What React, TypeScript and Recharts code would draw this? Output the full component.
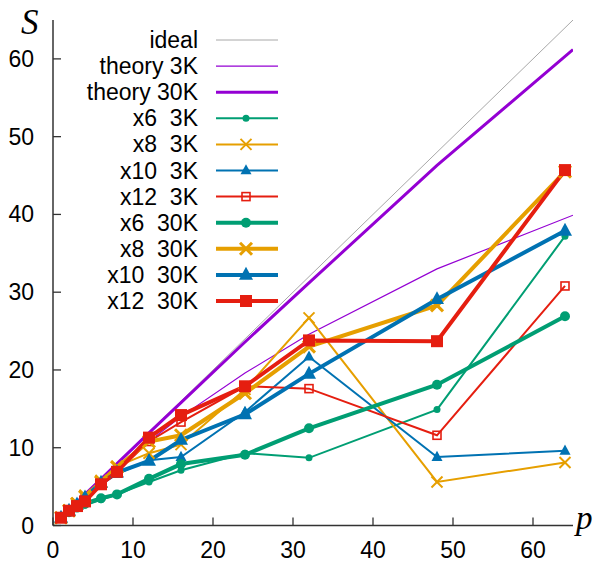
import { LineChart, Line, XAxis, YAxis } from 'recharts'

// processor counts used in the runs
const P = [1, 2, 3, 4, 6, 8, 12, 16, 24, 32, 48, 64]
const IDEAL_P = [0, 65]
const THEORY_P = [1, 2, 3, 4, 6, 8, 12, 16, 24, 32, 48, 65]

const ideal = [0, 65]
const theory3K = [1, 1.98, 2.94, 3.89, 5.72, 7.49, 10.8, 14.0, 19.6, 24.6, 33.0, 39.9]
const theory30K = [1, 2, 3, 4, 5.97, 7.95, 11.9, 15.8, 23.6, 31.2, 46.3, 61.2]

const x6_3K = [1, 1.6, 2.2, 2.6, 3.3, 4.0, 5.6, 7.1, 9.3, 8.7, 14.9, 37.2]
const x8_3K = [1, 2.0, 2.9, 3.9, 5.8, 7.6, 9.3, 10.4, 17.5, 26.7, 5.6, 8.1]
const x10_3K = [1, 1.9, 2.7, 3.5, 5.3, 6.6, 8.4, 8.8, 14.6, 21.7, 8.8, 9.6]
const x12_3K = [1, 1.9, 2.6, 3.4, 5.2, 6.9, 10.8, 13.3, 17.9, 17.6, 11.6, 30.8]
const x6_30K = [1, 1.7, 2.3, 2.8, 3.5, 4.0, 6.0, 7.9, 9.1, 12.5, 18.1, 26.9]
const x8_30K = [1, 1.9, 2.8, 3.7, 5.6, 7.5, 10.8, 11.6, 17.0, 23.0, 28.3, 45.5]
const x10_30K = [1, 1.9, 2.7, 3.6, 5.5, 6.8, 8.3, 11.0, 14.3, 19.5, 29.1, 37.9]
const x12_30K = [1, 1.9, 2.5, 3.1, 5.3, 6.9, 11.3, 14.2, 17.9, 23.8, 23.7, 45.7]

const X_TICKS = [0, 10, 20, 30, 40, 50, 60]
const Y_TICKS = [0, 10, 20, 30, 40, 50, 60]

const GREEN = '#009e73'
const ORANGE = '#e69f00'
const BLUE = '#0072b2'
const RED = '#e51e10'
const PURPLE = '#9400d3'
const AXIS = '#333333'
const FONT = '"Liberation Sans", Arial, sans-serif'
const SERIF = '"Liberation Serif", "DejaVu Serif", serif'

type Shape = 'none' | 'circle' | 'cross' | 'triangle' | 'openSquare' | 'square'

interface Series {
  name: string
  xs: number[]
  ys: number[]
  color: string
  width: number
  shape: Shape
  size: number
}

const series: Series[] = [
  { name: 'ideal', xs: IDEAL_P, ys: ideal, color: '#a8a8a8', width: 1, shape: 'none', size: 0 },
  { name: 'theory 3K', xs: THEORY_P, ys: theory3K, color: PURPLE, width: 1.2, shape: 'none', size: 0 },
  { name: 'theory 30K', xs: THEORY_P, ys: theory30K, color: PURPLE, width: 3, shape: 'none', size: 0 },
  { name: 'x6  3K', xs: P, ys: x6_3K, color: GREEN, width: 2, shape: 'circle', size: 3.5 },
  { name: 'x8  3K', xs: P, ys: x8_3K, color: ORANGE, width: 2, shape: 'cross', size: 5.5 },
  { name: 'x10  3K', xs: P, ys: x10_3K, color: BLUE, width: 2, shape: 'triangle', size: 5.5 },
  { name: 'x12  3K', xs: P, ys: x12_3K, color: RED, width: 2, shape: 'openSquare', size: 4 },
  { name: 'x6  30K', xs: P, ys: x6_30K, color: GREEN, width: 4, shape: 'circle', size: 5 },
  { name: 'x8  30K', xs: P, ys: x8_30K, color: ORANGE, width: 4, shape: 'cross', size: 6 },
  { name: 'x10  30K', xs: P, ys: x10_30K, color: BLUE, width: 4, shape: 'triangle', size: 7 },
  { name: 'x12  30K', xs: P, ys: x12_30K, color: RED, width: 4, shape: 'square', size: 6 },
]

function drawMarker(shape: Shape, cx: number, cy: number, s: number, color: string, key?: any) {
  switch (shape) {
    case 'circle':
      return <circle key={key} cx={cx} cy={cy} r={s} fill={color} />
    case 'cross':
      return (
        <g key={key} stroke={color} strokeWidth={s > 5.5 ? 3 : 2}>
          <line x1={cx - s} y1={cy - s} x2={cx + s} y2={cy + s} />
          <line x1={cx - s} y1={cy + s} x2={cx + s} y2={cy - s} />
        </g>
      )
    case 'triangle':
      return (
        <polygon
          key={key}
          points={`${cx},${cy - s * 1.15} ${cx - s},${cy + s * 0.7} ${cx + s},${cy + s * 0.7}`}
          fill={color}
        />
      )
    case 'openSquare':
      return (
        <rect key={key} x={cx - s} y={cy - s} width={2 * s} height={2 * s}
          fill="none" stroke={color} strokeWidth={1.6} />
      )
    case 'square':
      return <rect key={key} x={cx - s} y={cy - s} width={2 * s} height={2 * s} fill={color} />
    default:
      return <g key={key} />
  }
}

const makeDot = (sr: Series) => (props: any) => {
  const { cx, cy, index } = props
  if (sr.shape === 'none' || cx == null || cy == null) return <g key={index} />
  return drawMarker(sr.shape, cx, cy, sr.size, sr.color, index)
}

const BottomTick = (props: any) => {
  const { x, y, payload } = props
  return (
    <g>
      <line x1={x} y1={y} x2={x} y2={y - 8} stroke={AXIS} strokeWidth={1.3} />
      <text x={x} y={y + 32.5} textAnchor="middle" fontSize={23} fontFamily={FONT} fill="#000">
        {payload.value}
      </text>
    </g>
  )
}

const TopTick = (props: any) => {
  const { x, y } = props
  return <line x1={x} y1={y} x2={x} y2={y + 8} stroke={AXIS} strokeWidth={1.3} />
}

const LeftTick = (props: any) => {
  const { x, y, payload } = props
  return (
    <g>
      <line x1={x} y1={y} x2={x + 8} y2={y} stroke={AXIS} strokeWidth={1.3} />
      <text x={x - 19} y={y + 8} textAnchor="end" fontSize={23} fontFamily={FONT} fill="#000">
        {payload.value}
      </text>
    </g>
  )
}

const RightTick = (props: any) => {
  const { x, y } = props
  return <line x1={x} y1={y} x2={x - 8} y2={y} stroke={AXIS} strokeWidth={1.3} />
}

function LegendOverlay() {
  const rowY = (i: number) => 40 + i * 26.1
  return (
    <svg width={594} height={562} style={{ position: 'absolute', left: 0, top: 0, pointerEvents: 'none' }}>
      <text x={21} y={34} fontSize={35} fontStyle="italic" fontFamily={SERIF} fill="#000">S</text>
      <text x={576} y={529} fontSize={33} fontStyle="italic" fontFamily={SERIF} fill="#000">p</text>
      {series.map((sr, i) => (
        <g key={sr.name}>
          <text x={198} y={rowY(i) + 8} textAnchor="end" fontSize={23} fontFamily={FONT}
            fill="#000" style={{ whiteSpace: 'pre' }} xmlSpace="preserve">
            {sr.name}
          </text>
          <line x1={216} y1={rowY(i)} x2={278} y2={rowY(i)} stroke={sr.color} strokeWidth={sr.width} />
          {drawMarker(sr.shape, 246, rowY(i), sr.size, sr.color)}
        </g>
      ))}
    </svg>
  )
}

export default function App() {
  return (
    <div style={{ position: 'absolute', left: 0, top: 0, width: 594, height: 562, background: '#fff' }}>
      <LineChart width={594} height={562} margin={{ top: 20, right: 21, left: 0, bottom: 0 }}>
        <XAxis
          dataKey="p" type="number" domain={[0, 65]} ticks={X_TICKS} allowDataOverflow
          height={36.5} tickSize={0} tickMargin={0} tick={<BottomTick />}
          axisLine={{ stroke: AXIS, strokeWidth: 1.5 }} tickLine={false}
        />
        <XAxis
          xAxisId="top" orientation="top" type="number" domain={[0, 65]} ticks={X_TICKS} allowDataOverflow
          height={0} tickSize={0} tickMargin={0} tick={<TopTick />}
          axisLine={{ stroke: AXIS, strokeWidth: 1.5 }} tickLine={false}
        />
        <YAxis
          type="number" domain={[0, 65]} ticks={Y_TICKS} allowDataOverflow
          width={53} tickSize={0} tickMargin={0} tick={<LeftTick />}
          axisLine={{ stroke: AXIS, strokeWidth: 1.5 }} tickLine={false}
        />
        <YAxis
          yAxisId="right" orientation="right" type="number" domain={[0, 65]} ticks={Y_TICKS} allowDataOverflow
          width={0} tickSize={0} tickMargin={0} tick={<RightTick />}
          axisLine={{ stroke: AXIS, strokeWidth: 1.5 }} tickLine={false}
        />
        {series.map((sr) => (
          <Line
            key={sr.name}
            data={sr.xs.map((p, i) => ({ p, s: sr.ys[i] }))}
            dataKey="s"
            type="linear"
            stroke={sr.color}
            strokeWidth={sr.width}
            dot={makeDot(sr)}
            activeDot={false}
            isAnimationActive={false}
            legendType="none"
          />
        ))}
      </LineChart>
      <LegendOverlay />
    </div>
  )
}
